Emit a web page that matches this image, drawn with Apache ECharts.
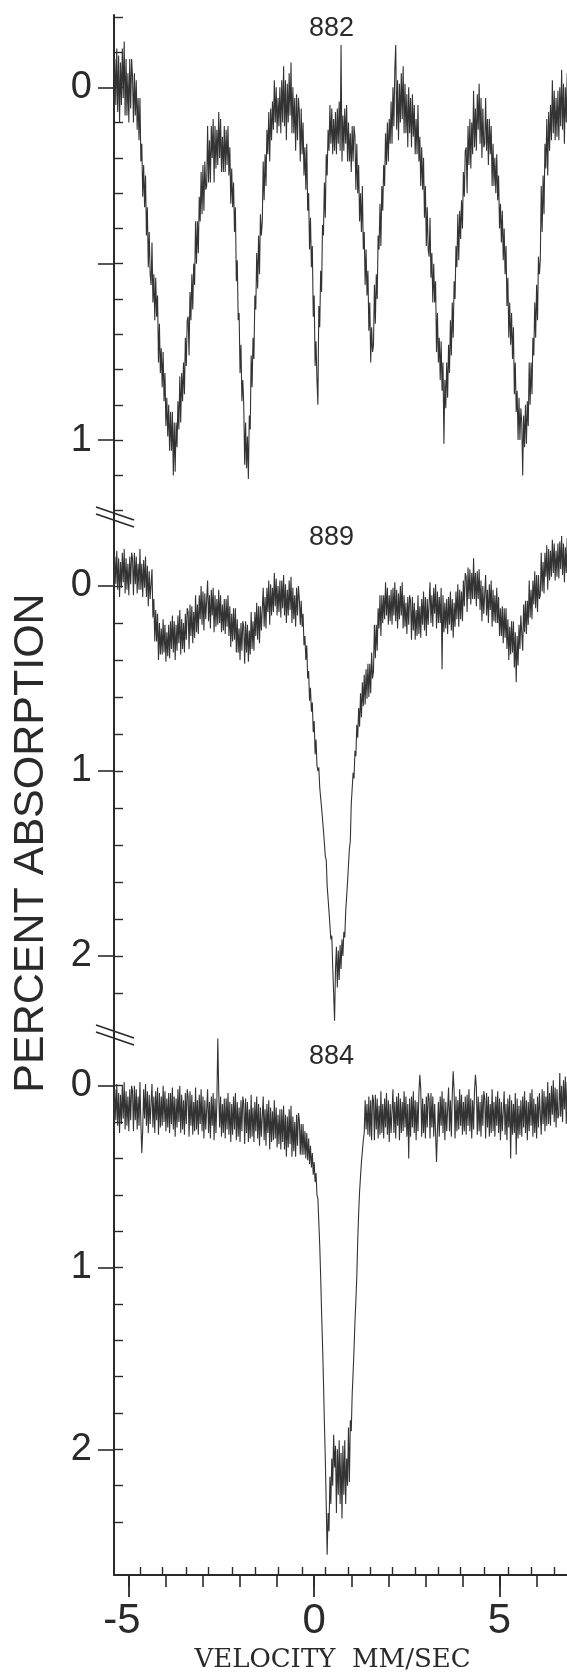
<!DOCTYPE html>
<html>
<head>
<meta charset="utf-8">
<script src="https://cdn.jsdelivr.net/npm/echarts@6/dist/echarts.min.js"></script>
<style>
html,body{margin:0;padding:0;background:#ffffff;}
#chart{width:567px;height:1672px;}
</style>
</head>
<body>
<div id="chart"></div>
<script>
// ---- channel velocity calibration (mm/s) ----
const VEL_START = -5.40;
const VEL_STEP = 0.025;

// ---- spectra: percent absorption per channel ----
const absorption882 = [
  0.09,-0.08,0.05,-0.11,0.07,-0.09,0.10,-0.07,0.05,-0.11,0.03,-0.13,0.08,-0.08,0.08,-0.04,0.10,-0.08,0.06,-0.08,
  -0.03,0.10,-0.04,0.08,-0.02,0.12,0.03,0.15,0.03,0.21,0.16,0.31,0.22,0.34,0.25,0.42,0.34,0.51,0.41,0.53,
  0.56,0.44,0.61,0.53,0.66,0.54,0.65,0.59,0.78,0.67,0.81,0.74,0.85,0.75,0.89,0.81,0.96,0.88,0.99,0.90,
  1.03,0.92,1.03,0.92,1.10,0.95,1.09,0.95,1.02,0.89,0.97,0.82,0.95,0.81,0.89,0.78,0.87,0.71,0.79,0.66,
  0.65,0.76,0.58,0.66,0.53,0.63,0.50,0.56,0.38,0.50,0.38,0.47,0.31,0.38,0.24,0.36,0.22,0.35,0.21,0.29,
  0.28,0.11,0.27,0.15,0.27,0.11,0.20,0.09,0.27,0.11,0.23,0.12,0.22,0.07,0.20,0.09,0.24,0.14,0.24,0.11,
  0.24,0.12,0.22,0.11,0.25,0.17,0.33,0.23,0.34,0.27,0.41,0.34,0.55,0.49,0.66,0.64,0.81,0.73,0.89,0.83,
  0.90,1.07,0.95,1.08,0.99,1.11,0.93,0.97,0.76,0.85,0.71,0.77,0.59,0.63,0.47,0.57,0.42,0.53,0.36,0.42,
  0.38,0.21,0.32,0.19,0.28,0.12,0.19,0.07,0.21,0.06,0.15,0.04,0.12,-0.02,0.10,0.00,0.13,0.03,0.11,0.00,
  0.13,-0.02,0.10,-0.06,0.11,-0.02,0.15,-0.01,0.10,-0.04,0.08,-0.07,0.13,0.00,0.13,0.03,0.18,0.02,0.15,0.03,
  0.07,0.21,0.06,0.19,0.10,0.25,0.17,0.29,0.16,0.35,0.30,0.46,0.37,0.51,0.45,0.65,0.59,0.79,0.72,0.83,
  0.90,0.62,0.68,0.52,0.58,0.39,0.42,0.27,0.37,0.19,0.25,0.12,0.18,0.05,0.16,0.06,0.19,0.09,0.18,0.07,
  0.19,0.06,0.16,0.04,0.18,-0.12,0.21,0.08,0.18,0.06,0.16,0.05,0.21,0.10,0.21,0.13,0.24,0.11,0.21,0.11,
  0.14,0.29,0.16,0.30,0.22,0.38,0.30,0.41,0.28,0.46,0.41,0.56,0.46,0.59,0.52,0.69,0.61,0.78,0.68,0.75,
  0.73,0.56,0.67,0.53,0.60,0.42,0.46,0.33,0.45,0.28,0.35,0.22,0.28,0.13,0.22,0.10,0.21,0.09,0.16,0.04,
  0.16,0.00,0.11,-0.05,-0.12,0.12,-0.02,0.15,-0.01,0.10,-0.04,0.09,-0.06,0.13,-0.01,0.13,0.02,0.17,0.00,0.13,
  0.03,0.17,0.02,0.14,0.05,0.19,0.09,0.19,0.05,0.21,0.14,0.28,0.17,0.29,0.20,0.37,0.28,0.45,0.34,0.46,
  0.48,0.37,0.54,0.47,0.61,0.50,0.61,0.55,0.75,0.64,0.78,0.71,0.83,0.72,0.86,0.78,1.01,0.83,0.91,0.78,
  0.88,0.73,0.81,0.66,0.76,0.61,0.71,0.55,0.60,0.45,0.51,0.36,0.49,0.35,0.43,0.32,0.40,0.24,0.31,0.18,
  0.17,0.30,0.11,0.22,0.09,0.23,0.10,0.19,0.01,0.17,0.06,0.18,0.02,0.12,-0.01,0.16,0.03,0.20,0.06,0.17,
  0.16,0.03,0.18,0.09,0.22,0.09,0.19,0.11,0.28,0.16,0.28,0.20,0.30,0.19,0.32,0.25,0.40,0.33,0.44,0.35,
  0.49,0.40,0.53,0.45,0.62,0.54,0.71,0.61,0.73,0.64,0.77,0.68,0.87,0.78,0.92,0.86,1.00,0.88,1.00,0.91,
  0.95,1.10,0.93,1.02,0.90,1.01,0.89,0.96,0.78,0.90,0.78,0.87,0.71,0.76,0.61,0.71,0.56,0.66,0.48,0.53,
  0.49,0.28,0.41,0.25,0.36,0.16,0.23,0.09,0.25,0.07,0.18,0.05,0.15,-0.02,0.13,0.01,0.15,0.03,0.14,0.01,
  0.15,0.00,0.11,-0.05,0.12,-0.01,0.16,0.00,0.10,-0.04
];
const absorption889 = [
  0.04,-0.16,-0.01,-0.19,0.02,-0.15,0.06,-0.13,0.01,-0.18,-0.02,-0.20,0.04,-0.15,0.02,-0.12,0.05,-0.16,-0.01,-0.18,
  -0.15,0.05,-0.18,-0.01,-0.16,0.04,-0.12,0.02,-0.20,0.02,-0.12,0.06,-0.14,0.01,-0.16,0.06,-0.11,0.11,-0.08,0.07,
  0.08,-0.09,0.17,0.07,0.30,0.13,0.30,0.15,0.40,0.20,0.37,0.23,0.37,0.18,0.36,0.21,0.41,0.25,0.38,0.21,
  0.39,0.19,0.34,0.16,0.36,0.19,0.40,0.21,0.35,0.16,0.31,0.13,0.37,0.18,0.34,0.20,0.36,0.15,0.29,0.12,
  0.14,0.34,0.10,0.27,0.11,0.31,0.14,0.28,0.05,0.25,0.10,0.26,0.05,0.18,0.00,0.21,0.03,0.24,0.04,0.18,
  0.18,-0.03,0.19,0.05,0.23,0.02,0.16,0.01,0.25,0.05,0.22,0.07,0.21,0.02,0.20,0.05,0.25,0.10,0.24,0.07,
  0.26,0.07,0.22,0.05,0.27,0.11,0.33,0.15,0.30,0.12,0.29,0.12,0.36,0.18,0.36,0.23,0.40,0.20,0.35,0.19,
  0.22,0.42,0.19,0.36,0.21,0.41,0.24,0.37,0.14,0.34,0.19,0.35,0.14,0.27,0.09,0.29,0.11,0.31,0.11,0.24,
  0.23,0.01,0.22,0.06,0.23,0.01,0.14,-0.03,0.21,-0.01,0.16,0.01,0.14,-0.07,0.11,-0.04,0.16,0.00,0.14,-0.03,
  0.17,-0.03,0.12,-0.06,0.16,-0.01,0.20,0.02,0.16,-0.03,0.13,-0.05,0.20,0.01,0.18,0.05,0.22,0.01,0.16,0.00,
  0.07,0.21,0.08,0.22,0.15,0.32,0.27,0.40,0.32,0.50,0.46,0.62,0.55,0.68,0.63,0.79,0.73,0.91,0.83,0.97,
  1.00,0.98,1.09,1.08,1.20,1.20,1.32,1.32,1.46,1.48,1.62,1.63,1.76,1.76,1.91,1.89,2.06,2.20,2.35,2.07,
  1.95,2.17,1.97,2.13,1.94,2.07,1.91,2.00,1.87,1.90,1.76,1.76,1.60,1.59,1.42,1.38,1.18,1.18,1.01,1.04,
  0.89,0.92,0.75,0.82,0.66,0.76,0.58,0.71,0.52,0.65,0.48,0.64,0.45,0.61,0.42,0.60,0.42,0.58,0.36,0.50,
  0.46,0.21,0.39,0.21,0.35,0.12,0.23,0.05,0.27,0.05,0.20,0.05,0.18,-0.02,0.16,0.01,0.21,0.05,0.19,0.02,
  0.21,0.01,0.16,-0.02,0.19,0.02,0.23,0.04,0.18,0.00,0.16,-0.02,0.23,0.05,0.22,0.09,0.26,0.06,0.21,0.05,
  0.08,0.29,0.06,0.24,0.09,0.29,0.13,0.27,0.05,0.26,0.11,0.28,0.07,0.21,0.03,0.24,0.06,0.27,0.07,0.21,
  0.20,-0.02,0.20,0.05,0.22,0.01,0.15,-0.01,0.23,0.03,0.20,0.06,0.20,0.01,0.45,0.05,0.25,0.09,0.23,0.07,
  0.26,0.06,0.21,0.03,0.24,0.07,0.28,0.09,0.22,0.03,0.18,-0.01,0.22,0.02,0.18,0.03,0.19,-0.03,0.11,-0.07,
  -0.05,0.14,-0.10,0.07,-0.09,0.10,-0.07,0.07,-0.15,0.07,-0.07,0.11,-0.08,0.07,-0.09,0.13,-0.03,0.19,0.00,0.15,
  0.15,-0.06,0.16,0.02,0.20,-0.01,0.13,-0.03,0.22,0.02,0.19,0.05,0.20,0.01,0.20,0.06,0.27,0.12,0.27,0.11,
  0.31,0.12,0.28,0.12,0.34,0.18,0.40,0.22,0.37,0.19,0.36,0.19,0.44,0.25,0.52,0.27,0.43,0.21,0.34,0.16,
  0.17,0.35,0.10,0.25,0.08,0.26,0.08,0.21,-0.03,0.17,0.02,0.18,-0.03,0.10,-0.08,0.12,-0.06,0.14,-0.06,0.07,
  0.05,-0.18,0.03,-0.13,0.04,-0.18,-0.05,-0.22,0.02,-0.20,-0.03,-0.19,-0.05,-0.25,-0.07,-0.23,-0.03,-0.19,-0.05,-0.23,
  -0.04,-0.24,-0.09,-0.27,-0.06,-0.23,-0.02,-0.21,-0.07,-0.26
];
const absorption884 = [
  0.24,0.02,0.19,-0.01,0.22,0.04,0.26,0.05,0.21,0.00,0.18,-0.02,0.24,0.03,0.22,0.06,0.25,0.02,0.19,0.00,
  0.03,0.25,0.00,0.19,0.02,0.24,0.06,0.22,-0.02,0.21,0.37,0.24,0.02,0.18,-0.01,0.22,0.03,0.26,0.05,0.21,
  0.22,-0.01,0.23,0.06,0.26,0.03,0.19,0.01,0.27,0.04,0.23,0.06,0.22,0.00,0.20,0.03,0.25,0.07,0.23,0.04,
  0.26,0.04,0.21,0.01,0.24,0.06,0.28,0.07,0.23,0.02,0.20,0.00,0.26,0.05,0.24,0.08,0.27,0.04,0.21,0.02,
  0.06,0.28,0.03,0.22,0.05,0.27,0.09,0.25,0.01,0.24,0.08,0.27,0.05,0.21,0.02,0.25,0.06,0.29,0.08,0.24,
  0.25,0.02,0.26,0.09,0.29,0.06,0.22,0.04,0.30,0.07,0.26,0.09,-0.26,0.03,0.23,0.06,0.28,0.10,0.26,0.07,
  0.29,0.07,0.24,0.04,0.27,0.09,0.31,0.10,0.27,0.06,0.24,0.04,0.30,0.09,0.28,0.12,0.31,0.08,0.25,0.06,
  0.10,0.32,0.07,0.26,0.09,0.31,0.13,0.29,0.05,0.28,0.12,0.31,0.09,0.25,0.06,0.29,0.10,0.33,0.12,0.28,
  0.29,0.06,0.30,0.13,0.33,0.10,0.26,0.08,0.35,0.12,0.31,0.14,0.30,0.08,0.29,0.12,0.34,0.16,0.32,0.13,
  0.35,0.13,0.31,0.11,0.35,0.16,0.39,0.17,0.34,0.13,0.32,0.11,0.39,0.17,0.36,0.20,0.39,0.16,0.33,0.15,
  0.19,0.38,0.21,0.38,0.21,0.38,0.25,0.40,0.26,0.41,0.29,0.43,0.33,0.45,0.37,0.49,0.42,0.53,0.48,0.60,
  0.62,0.75,0.88,1.05,1.25,1.42,1.62,1.85,2.05,2.30,2.58,2.35,2.45,2.15,2.30,2.05,2.20,1.92,2.10,1.98,
  2.35,2.00,2.25,1.95,2.30,2.02,2.38,1.98,2.25,1.95,2.30,2.05,2.20,1.88,2.18,1.84,1.90,1.70,1.58,1.45,
  1.30,1.18,1.05,0.85,0.70,0.58,0.50,0.42,0.36,0.30,0.26,0.08,0.24,0.10,0.27,0.06,0.28,0.08,0.30,0.05,
  0.08,0.30,0.05,0.24,0.07,0.29,0.11,0.27,0.03,0.26,0.10,0.29,0.07,0.23,0.04,0.27,0.08,0.31,0.10,0.26,
  0.25,0.02,0.26,0.09,0.29,0.06,0.22,0.04,0.30,0.07,0.26,0.09,0.25,0.03,0.23,0.06,0.28,0.10,0.40,0.07,
  0.28,0.06,0.23,0.03,0.26,0.08,0.30,0.09,0.25,0.04,-0.06,0.02,0.28,0.07,0.26,0.10,0.29,0.06,0.23,0.04,
  0.07,0.29,0.04,0.23,0.06,0.28,0.10,0.26,0.42,0.25,0.09,0.28,0.06,0.22,0.03,0.26,0.07,0.30,0.09,0.25,
  0.24,0.01,0.25,0.08,0.28,0.05,-0.08,0.03,0.29,0.06,0.25,0.08,0.24,0.02,0.22,0.05,0.27,0.09,0.25,0.06,
  0.27,0.05,0.22,0.02,0.25,0.07,0.29,0.08,0.24,0.03,-0.06,0.01,0.27,0.06,0.25,0.09,0.28,0.05,0.22,0.03,
  0.07,0.29,0.04,0.23,0.06,0.28,0.10,0.26,0.02,0.25,0.09,0.28,0.06,0.22,0.03,0.26,0.07,0.30,0.09,0.25,
  0.26,0.03,0.27,0.10,0.30,0.07,0.23,0.05,0.40,0.08,0.27,0.10,0.26,0.04,0.38,0.07,0.29,0.11,0.27,0.08,
  0.28,0.06,0.23,0.03,0.26,0.08,0.30,0.09,0.25,0.04,0.22,0.02,0.28,0.07,0.26,0.10,0.29,0.06,0.23,0.04,
  0.05,0.27,0.02,0.21,0.03,0.25,0.06,0.22,-0.02,0.21,0.04,0.22,0.00,0.16,-0.03,0.20,0.01,0.23,0.02,0.18,
  0.16,-0.07,0.17,0.00,0.20,-0.03,0.13,-0.05,0.21,-0.02
];

// ---- panel names ----
const sampleNames = ['882', '889', '884'];

// ---- tick / label values ----
const xLabelValues = [-5, 0, 5];
const xTickValues = [-5, -4, -3, -2, -1, 0, 1, 2, 3, 4, 5, 6];
const xInnerTickValues = [-4.70,-4.09,-3.46,-2.86,-2.20,-1.59,-0.96,-0.33,0.30,0.91,1.50,2.10,2.73,3.36,3.95,4.60,5.23,5.86,6.47];

const y882Labels = [0, 1];
const y882MajorTicks = [0, 0.5, 1];
const y882MinorTicks = [-0.2,-0.1,0,0.1,0.2,0.3,0.4,0.5,0.6,0.7,0.8,0.9,1.0,1.1,1.2];
const y889Labels = [0, 1, 2];
const y889MajorTicks = [0, 1, 2];
const y889MinorTicks = [0,0.2,0.4,0.6,0.8,1.0,1.2,1.4,1.6,1.8,2.0,2.2];
const y884Labels = [0, 1, 2];
const y884MajorTicks = [0, 1, 2];
const y884MinorTicks = [0,0.2,0.4,0.6,0.8,1.0,1.2,1.4,1.6,1.8,2.0,2.2,2.4];

// ---- layout ----
const X_MIN = -5.40, X_MAX = 6.82;
const PANELS = [
  { top: 15,   bottom: 517,  min: -0.205, max: 1.218 },
  { top: 517,  bottom: 1035, min: -0.373, max: 2.427 },
  { top: 1035, bottom: 1575, min: -0.279, max: 2.691 }
];
const GRID_LEFT = 114;
const INK = '#2a2a2a';
const LINE = '#333333';
const SANS = '"Liberation Sans", Arial, Helvetica, sans-serif';

function toPairs(arr) {
  return arr.map((y, i) => [VEL_START + i * VEL_STEP, y]);
}

const grids = PANELS.map(p => ({
  left: GRID_LEFT, right: 0, top: p.top, height: p.bottom - p.top, containLabel: false
}));

function yAxesFor(g, labels, major, minor) {
  const p = PANELS[g];
  return [
    {
      gridIndex: g, type: 'value', inverse: true, min: p.min, max: p.max, position: 'left',
      axisLine: { show: true, onZero: false, lineStyle: { color: INK, width: 2 } },
      axisTick: { show: true, inside: false, length: 16, customValues: major, lineStyle: { color: INK, width: 1.6 } },
      axisLabel: { show: true, customValues: labels, margin: 22, fontSize: 38, color: INK, fontFamily: SANS },
      splitLine: { show: false }
    },
    {
      gridIndex: g, type: 'value', inverse: true, min: p.min, max: p.max, position: 'left',
      axisLine: { show: false, onZero: false },
      axisTick: { show: true, inside: true, length: 9, customValues: minor, lineStyle: { color: INK, width: 1.4 } },
      axisLabel: { show: false },
      splitLine: { show: false }
    }
  ];
}

const yAxes = [].concat(
  yAxesFor(0, y882Labels, y882MajorTicks, y882MinorTicks),
  yAxesFor(1, y889Labels, y889MajorTicks, y889MinorTicks),
  yAxesFor(2, y884Labels, y884MajorTicks, y884MinorTicks)
);

const xAxes = [
  { gridIndex: 0, type: 'value', min: X_MIN, max: X_MAX, show: false },
  { gridIndex: 1, type: 'value', min: X_MIN, max: X_MAX, show: false },
  {
    gridIndex: 2, type: 'value', min: X_MIN, max: X_MAX, position: 'bottom',
    axisLine: { show: true, onZero: false, lineStyle: { color: INK, width: 2 } },
    axisTick: { show: true, inside: false, length: 12, customValues: xTickValues, lineStyle: { color: INK, width: 1.6 } },
    axisLabel: {
      show: true, customValues: xLabelValues, margin: 25, fontSize: 42, color: INK, fontFamily: SANS,
      formatter: v => (v < 0 ? '{neg|' + String(v) + '}' : String(v)),
      rich: { neg: { fontSize: 42, color: INK, fontFamily: SANS, padding: [0, 14, 0, 0] } }
    },
    splitLine: { show: false }
  },
  {
    gridIndex: 2, type: 'value', min: X_MIN, max: X_MAX, position: 'bottom',
    axisLine: { show: false, onZero: false },
    axisTick: { show: true, inside: false, length: 22, customValues: xLabelValues, lineStyle: { color: INK, width: 1.8 } },
    axisLabel: { show: false }, splitLine: { show: false }
  },
  {
    gridIndex: 2, type: 'value', min: X_MIN, max: X_MAX, position: 'bottom',
    axisLine: { show: false, onZero: false },
    axisTick: { show: true, inside: true, length: 8, customValues: xInnerTickValues, lineStyle: { color: INK, width: 1.4 } },
    axisLabel: { show: false }, splitLine: { show: false }
  }
];

function spectrumSeries(name, arr, g) {
  return {
    name: name, type: 'line', xAxisIndex: g, yAxisIndex: g * 2,
    data: toPairs(arr), showSymbol: false, symbol: 'none', silent: true, clip: true,
    lineStyle: { color: LINE, width: 1.1 }
  };
}

const chart = echarts.init(document.getElementById('chart'), null, { renderer: 'canvas' });
chart.setOption({
  animation: false,
  backgroundColor: '#ffffff',
  grid: grids,
  xAxis: xAxes,
  yAxis: yAxes,
  series: [
    spectrumSeries(sampleNames[0], absorption882, 0),
    spectrumSeries(sampleNames[1], absorption889, 1),
    spectrumSeries(sampleNames[2], absorption884, 2)
  ]
});

// decorations: axis-break marks, panel names and axis titles
const axisX = chart.convertToPixel({ xAxisIndex: 0 }, X_MIN);
const breakY = [
  chart.convertToPixel({ yAxisIndex: 0 }, PANELS[0].max),
  chart.convertToPixel({ yAxisIndex: 2 }, PANELS[1].max)
];
const elements = [];
breakY.forEach((yc, k) => {
  [-3.5, 3.5].forEach((d, j) => {
    elements.push({
      type: 'line', id: 'brk' + k + '_' + j, silent: true, z: 10,
      shape: { x1: axisX - 18, y1: yc + d - 6.5, x2: axisX + 20, y2: yc + d + 6.5 },
      style: { stroke: INK, lineWidth: 1.8 }
    });
  });
});
const nameY = [29, 538, 1057];
sampleNames.forEach((n, i) => {
  elements.push({
    type: 'text', id: 'name' + i, x: 331.5, y: nameY[i], silent: true,
    style: { text: n, fill: INK, font: '27px ' + SANS, align: 'center', verticalAlign: 'middle',
             textAlign: 'center', textVerticalAlign: 'middle' }
  });
});
elements.push({
  type: 'text', id: 'ytitle', x: 31.5, y: 843, rotation: Math.PI / 2, silent: true,
  style: { text: 'PERCENT ABSORPTION', fill: INK, font: '43px ' + SANS, align: 'center', verticalAlign: 'middle',
           textAlign: 'center', textVerticalAlign: 'middle' }
});
elements.push({
  type: 'text', id: 'xtitle', x: 332.5, y: 1660, silent: true,
  style: { text: 'VELOCITY  MM/SEC', fill: INK, font: '26px "DejaVu Serif", "Liberation Serif", serif',
           align: 'center', verticalAlign: 'middle', textAlign: 'center', textVerticalAlign: 'middle' }
});
chart.setOption({ graphic: { elements: elements } });
</script>
</body>
</html>
